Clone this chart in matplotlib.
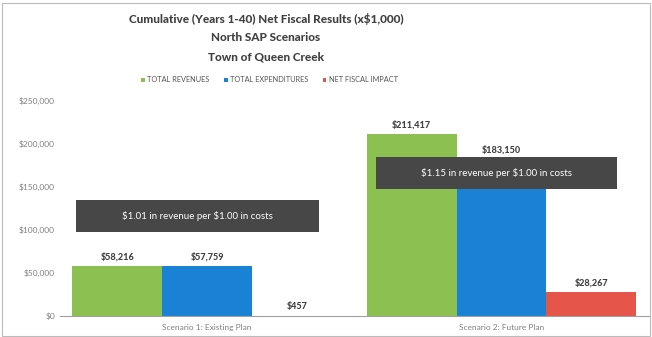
import numpy as np
import matplotlib.pyplot as plt
from matplotlib.patches import Rectangle

plt.rcParams['font.family'] = ['Lato', 'DejaVu Sans']

# --- datos ---
escenarios = ['Scenario 1: Existing Plan', 'Scenario 2: Future Plan']
series = ['TOTAL REVENUES', 'TOTAL EXPENDITURES', 'NET FISCAL IMPACT']
ingresos = [58216, 211417]
gastos = [57759, 183150]
impacto = [457, 28267]
notas = [r'\$1.01 in revenue per \$1.00 in costs', r'\$1.15 in revenue per \$1.00 in costs']
yticks = [0, 50000, 100000, 150000, 200000, 250000]

colores = ['#8cc152', '#1a82d4', '#e5554a']

fig = plt.figure(figsize=(6.52, 3.37), dpi=100)
fig.patch.set_facecolor('white')
fig.add_artist(Rectangle((0.003, 0.003), 0.994, 0.988, transform=fig.transFigure,
                         fill=False, edgecolor='#bbbbbb', linewidth=0.8))

ax = fig.add_axes([0.092, 0.0623, 0.903, 0.638])
x = np.arange(len(escenarios))
w = 0.305
valores = [ingresos, gastos, impacto]
for i, (vals, col, nombre) in enumerate(zip(valores, colores, series)):
    pos = x + (i - 1) * w
    ax.bar(pos, vals, width=w, color=col, label=nombre)
    for p, v in zip(pos, vals):
        ax.text(p, v + 5000, f'\\${v:,.0f}', ha='center', va='bottom',
                fontsize=6.5, fontweight='black', color='#404040')

ax.set_xlim(-0.5, 1.5)
ax.set_ylim(0, 250000)
ax.set_yticks(yticks)
ax.set_yticklabels([f'\\${t:,.0f}' for t in yticks])
ax.set_xticks(x)
ax.set_xticklabels(escenarios)
ax.tick_params(axis='both', length=0, labelsize=6, colors='#808080')
ax.tick_params(axis='x', pad=6)
for s in ['top', 'right', 'left']:
    ax.spines[s].set_visible(False)
ax.spines['bottom'].set_color('#a0a0a0')

# cajas de ratio (x0, x1, y0, y1 en coordenadas de datos)
cajas = [(-0.444, 0.380, 97700, 134900), (0.573, 1.393, 147700, 185000)]
for (x0, x1, y0, y1), txt in zip(cajas, notas):
    ax.add_patch(Rectangle((x0, y0), x1 - x0, y1 - y0, facecolor='#474747',
                           edgecolor='none', zorder=3))
    ax.text((x0 + x1) / 2, (y0 + y1) / 2, txt, ha='center', va='center',
            fontsize=7, color='white', zorder=4)

cx = 0.408
for yy, linea in zip([0.945, 0.888, 0.83],
                     ['Cumulative (Years 1-40) Net Fiscal Results (x\\$1,000)',
                      'North SAP Scenarios', 'Town of Queen Creek']):
    fig.text(cx, yy, linea, ha='center', va='center', fontsize=8.5,
             fontweight='black', color='#404040')

handles, labels = ax.get_legend_handles_labels()
fig.legend(handles, labels, loc='center', bbox_to_anchor=(cx + 0.005, 0.763), ncol=3,
           frameon=False, fontsize=5.3, handlelength=0.5, handleheight=0.5,
           columnspacing=2.0, handletextpad=0.3, labelcolor='#555555')

fig.savefig('out.png', dpi=100)
